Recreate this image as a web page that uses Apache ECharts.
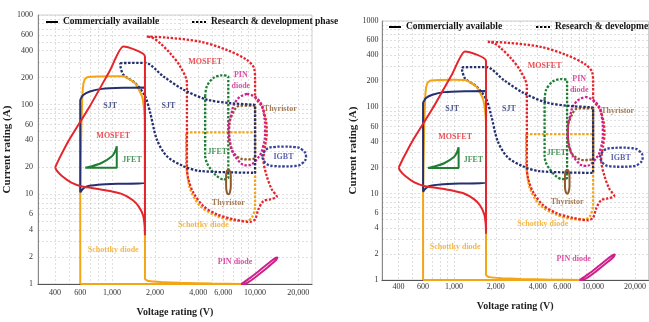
<!DOCTYPE html>
<html>
<head>
<meta charset="utf-8">
<title>Current vs voltage rating of SiC devices</title>
<script src="https://cdn.jsdelivr.net/npm/echarts@6/dist/echarts.min.js"></script>
<style>
  html, body { margin: 0; padding: 0; background: #fff; }
  #chart { width: 649px; height: 322px; }
</style>
</head>
<body>
<div id="chart"></div>
<script>
// axis labels and grid lines (log axes)
const voltageTicks = [400, 600, 1000, 2000, 4000, 6000, 10000, 20000];
const currentTicks = [1, 2, 4, 6, 10, 20, 40, 60, 100, 200, 400, 600, 1000];
const voltageGrid = [400, 500, 600, 700, 800, 900, 1000, 2000, 3000, 4000, 5000, 6000, 7000, 8000, 9000, 10000, 20000];
const currentGrid = [1, 2, 3, 4, 5, 6, 7, 8, 9, 10, 20, 30, 40, 50, 60, 70, 80, 90, 100, 200, 300, 400, 500, 600, 700, 800, 900, 1000];

// commercially available devices: outlines as [voltage V, current A]
const mosfetCommercial = [[401, 20], [428, 25], [500, 40], [705, 98], [972, 244], [1200, 444], [1700, 344], [1700, 3.5], [1690, 4.5], [1650, 5.8], [1540, 7.3], [1400, 8.6], [1170, 10.1], [970, 10.9], [800, 11.5], [620, 12.2], [520, 13.5], [447, 16], [410, 18.5], [401, 20]];
const schottkyCommercial = [[600, 1], [600, 10], [610, 50], [625, 150], [645, 192], [680, 204], [1000, 208], [1200, 207], [1450, 174], [1620, 124], [1680, 86], [1700, 60], [1700, 1.14], [1800, 1.08], [2200, 1.05], [3000, 1.03], [5000, 1.01], [8000, 1], [600, 1]];
const sjtCommercial = [[600, 10.5], [600, 112], [630, 128], [700, 140], [850, 150], [1200, 154], [1700, 155], [1700, 13.3], [1100, 13.1], [800, 12.8], [660, 12.2], [620, 11.3], [600, 10.5]];
const jfetCommercial = [[650, 19.8], [1080, 19.8], [1080, 34.4], [1050, 30], [1000, 26.6], [850, 22.5], [724, 20.6], [650, 19.8]];
const pinCommercial = [[8000, 1], [9230, 1.17], [10840, 1.43], [12730, 1.76], [14020, 1.97], [14360, 1.98], [14020, 1.85], [12330, 1.55], [10500, 1.26], [9230, 1.08], [8380, 1.0], [8000, 1]];
const thyristorCommercial = [[6510, 19], [6690, 18], [6766, 15.85], [6766, 12.27], [6669, 10.5], [6510, 10], [6354, 10.5], [6275, 12.27], [6275, 15.85], [6334, 18], [6510, 19]];

// research & development phase
const mosfetRD = [[1750, 575], [2420, 560], [4130, 505], [6340, 408], [8750, 316], [9840, 256], [10000, 190], [10000, 124], [11140, 96], [11900, 68], [12070, 48.5], [11750, 34.4], [11430, 24.5], [12070, 16], [13080, 11.4], [14180, 9.4], [12730, 8.8], [11430, 8.4], [10550, 6.8], [10000, 5.27], [9230, 4.92], [7060, 5.27], [5400, 6.0], [4355, 7.4], [3710, 10.4], [3420, 14.7], [3340, 19.8], [3340, 174], [3000, 266], [2550, 375], [2170, 485], [1950, 551], [1750, 575]];
const sjtRD = [[1140, 291], [1700, 293], [2290, 206], [3160, 147], [4600, 114], [6690, 104], [9730, 100], [10000, 99], [10000, 17.4], [4130, 18.2], [3160, 20.6], [2420, 26.6], [2060, 40.8], [1850, 81], [1706, 124], [1453, 174], [1203, 215], [1150, 260], [1140, 291]];
const jfetRD = [[4480, 124], [4600, 160], [5100, 198], [5850, 212], [6500, 206], [6500, 15.3], [6000, 14.7], [5400, 16], [4850, 19.5], [4600, 22.5], [4480, 27], [4480, 124]];
const schottkyRD = [[3300, 49], [10000, 49], [10000, 7.4], [9500, 5.5], [8750, 5.05], [7450, 5.05], [5400, 5.74], [4130, 7.4], [3520, 11.4], [3340, 18.2], [3300, 22], [3300, 49]];
const pinRD = [[8800, 132], [10500, 114], [11560, 77], [11750, 52.7], [11370, 34], [10160, 24], [8800, 21], [7610, 24], [6800, 34], [6580, 52.7], [6800, 77], [7490, 114], [8800, 132]];
const thyristorRD = [[10000, 97.5], [7860, 97.5], [6910, 77], [6580, 52.7], [6690, 36], [7370, 27], [8650, 24.5], [10000, 25.8], [10000, 97.5]];
const igbtRD = [[11190, 26.4], [11940, 31.6], [13570, 33.7], [15940, 34.1], [18730, 33.7], [21300, 31.6], [22710, 26.4], [21300, 22.1], [18730, 20.7], [15940, 20.5], [13570, 20.7], [11940, 22.1], [11190, 26.4]];

// text labels inside the plot: [voltage, current, text, device]
const annotations = [
  [970, 97, 'SJT', 'sjt'],
  [2480, 97, 'SJT', 'sjt'],
  [1020, 45, 'MOSFET', 'mosfet'],
  [1380, 24.5, 'JFET', 'jfet'],
  [1020, 2.4, 'Schottky diode', 'schottky'],
  [4480, 300, 'MOSFET', 'mosfet'],
  [7950, 185, 'PIN\ndiode', 'pin'],
  [15000, 90, 'Thyristor', 'thyristor'],
  [5450, 30, 'JFET', 'jfet'],
  [15800, 26, 'IGBT', 'igbt'],
  [6500, 8.1, 'Thyristor', 'thyristor'],
  [4350, 4.5, 'Schottky diode', 'schottky'],
  [7250, 1.74, 'PIN diode', 'pin']
];

const colors = {
  mosfet: '#e5252c',
  schottky: '#f2a516',
  sjt: '#26306f',
  jfet: '#1f7d35',
  pin: '#d01f8d',
  thyristor: '#8e5a2a',
  igbt: '#34409a'
};

const shapes = [
  { data: schottkyRD, dev: 'schottky', rd: true, smooth: 0.3 },
  { data: mosfetRD, dev: 'mosfet', rd: true, smooth: 0.3 },
  { data: jfetRD, dev: 'jfet', rd: true, smooth: 0.3 },
  { data: thyristorRD, dev: 'thyristor', rd: true, smooth: 0.4 },
  { data: pinRD, dev: 'pin', rd: true, smooth: 0.5 },
  { data: sjtRD, dev: 'sjt', rd: true, smooth: 0.3 },
  { data: igbtRD, dev: 'igbt', rd: true, smooth: 0.5 },
  { data: schottkyCommercial, dev: 'schottky', rd: false, smooth: 0.15 },
  { data: sjtCommercial, dev: 'sjt', rd: false, smooth: 0.2 },
  { data: mosfetCommercial, dev: 'mosfet', rd: false, smooth: 0.2 },
  { data: jfetCommercial, dev: 'jfet', rd: false, smooth: 0.2 },
  { data: pinCommercial, dev: 'pin', rd: false, smooth: 0.3 },
  { data: thyristorCommercial, dev: 'thyristor', rd: false, smooth: 0.5 }
];

const serif = 'Liberation Serif, Times New Roman, serif';
const fmtVoltage = (v) => (v >= 1000 ? v.toLocaleString('en-US') : String(v));
const fmtCurrent = (v) => String(v);
const rdDash = [2.4, 1.6];

// two copies of the same chart, side by side
const panels = [
  { left: 38, top: 15, width: 274, height: 271, xMargin: 5, yMargin: 5, xGap: 23, yGap: 18, legendTop: 17, legendLeft: [45, 191] },
  { left: 382, top: 21, width: 279, height: 259, xMargin: 3, yMargin: 3.5, xGap: 21, yGap: 15, legendTop: 22, legendLeft: [388, 535] }
];

const grid = [], xAxis = [], yAxis = [], series = [], legend = [];

panels.forEach((p, i) => {
  grid.push({ left: p.left, top: p.top, width: p.width, height: p.height, show: true, borderColor: '#cfcfcf', borderWidth: 1 });

  xAxis.push({
    type: 'log', logBase: 10, gridIndex: i, min: 304, max: 25000,
    name: 'Voltage rating (V)', nameLocation: 'middle', nameGap: p.xGap,
    nameTextStyle: { fontFamily: serif, fontWeight: 'bold', fontSize: 10, color: '#222' },
    axisLine: { lineStyle: { color: '#555', width: 1.2 } },
    axisTick: { show: false, customValues: voltageGrid },
    axisLabel: { customValues: voltageTicks, formatter: fmtVoltage, fontFamily: serif, fontSize: 8, color: '#333', margin: p.xMargin },
    splitLine: { show: true, lineStyle: { color: '#d2d2d2', type: [2, 2], width: 0.7 } }
  });

  yAxis.push({
    type: 'log', logBase: 10, gridIndex: i, min: 1, max: 1000,
    name: 'Current rating (A)', nameLocation: 'middle', nameGap: p.yGap, nameRotate: 90,
    nameTextStyle: { fontFamily: serif, fontWeight: 'bold', fontSize: 11, color: '#222' },
    axisLine: { lineStyle: { color: '#888', width: 1 } },
    axisTick: { show: false, customValues: currentGrid },
    axisLabel: { customValues: currentTicks, formatter: fmtCurrent, fontFamily: serif, fontSize: 8, color: '#333', margin: p.yMargin },
    splitLine: { show: true, lineStyle: { color: '#d2d2d2', type: [2, 2], width: 0.7 } }
  });

  shapes.forEach((s) => {
    series.push({
      type: 'line', xAxisIndex: i, yAxisIndex: i, data: s.data,
      symbol: 'none', smooth: s.smooth, silent: true,
      lineStyle: {
        color: colors[s.dev],
        width: s.rd ? 2.3 : 2,
        type: s.rd ? rdDash : 'solid'
      }
    });
  });

  series.push({
    type: 'scatter', xAxisIndex: i, yAxisIndex: i, symbolSize: 1, silent: true,
    itemStyle: { color: 'transparent' },
    data: annotations.map((a) => ({ name: a[2], value: [a[0], a[1]], label: { color: colors[a[3]] } })),
    label: {
      show: true, position: 'inside', formatter: (d) => d.name,
      fontFamily: serif, fontWeight: 'bold', fontSize: 8, lineHeight: 11
    }
  });

  const legendText = { fontFamily: serif, fontWeight: 'bold', fontSize: 9.5, color: '#111' };
  const legendBase = { top: p.legendTop, padding: 0, itemHeight: 8, itemGap: 4, selectedMode: false, textStyle: legendText, itemStyle: { opacity: 0 } };
  legend.push(Object.assign({ left: p.legendLeft[0], itemWidth: 12, data: ['Commercially available'] }, legendBase));
  legend.push(Object.assign({ left: p.legendLeft[1], itemWidth: 14, data: ['Research & development phase'] }, legendBase));
});

// legend entries only
series.push({ type: 'line', name: 'Commercially available', xAxisIndex: 0, yAxisIndex: 0, data: [], symbol: 'none', itemStyle: { color: '#000' }, lineStyle: { color: '#000', width: 2.5 } });
series.push({ type: 'line', name: 'Research & development phase', xAxisIndex: 0, yAxisIndex: 0, data: [], symbol: 'none', itemStyle: { color: '#000' }, lineStyle: { color: '#000', width: 2.5, type: rdDash } });

const chart = echarts.init(document.getElementById('chart'));
chart.setOption({
  backgroundColor: '#fff',
  animation: false,
  grid, xAxis, yAxis, legend, series
});
</script>
</body>
</html>
